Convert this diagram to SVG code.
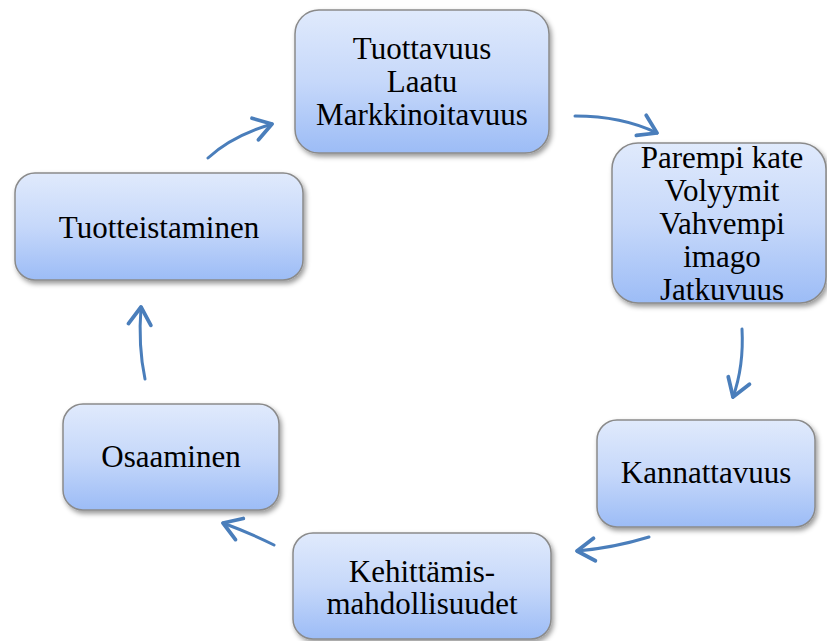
<svg xmlns="http://www.w3.org/2000/svg" width="827" height="641" viewBox="0 0 827 641">
<defs>
<linearGradient id="g" x1="0" y1="0" x2="0" y2="1">
<stop offset="0" stop-color="#e0eafc"/>
<stop offset="0.5" stop-color="#c6d8fa"/>
<stop offset="1" stop-color="#9cbcf6"/>
</linearGradient>
<filter id="sh" x="-10%" y="-10%" width="130%" height="140%">
<feDropShadow dx="2" dy="3" stdDeviation="2.5" flood-color="#000" flood-opacity="0.4"/>
</filter>
<marker id="ah" markerUnits="userSpaceOnUse" markerWidth="30" markerHeight="30" refX="0" refY="0" viewBox="-16 -12 20 24" orient="auto">
<path d="M-14,-9 L0,0 L-14,9" fill="none" stroke="#4a7ebb" stroke-width="3" stroke-linecap="round" stroke-linejoin="round"/>
</marker>
</defs>
<style>
.box{fill:url(#g);stroke:#8a8a8a;stroke-width:1.5;filter:url(#sh)}
.t{font-family:'Liberation Serif','DejaVu Serif',serif;font-size:31px;fill:#000;text-anchor:middle}
.c{fill:none;stroke:#4a7ebb;stroke-width:3;stroke-linecap:round;marker-end:url(#ah)}
</style>
<rect width="827" height="641" fill="#fff"/>
<g id="connectors">
<path class="c" d="M208,158 Q232,136 272,124"/>
<path class="c" d="M575,116 Q622,116 657,133"/>
<path class="c" d="M742,329 Q744,366 733,397"/>
<path class="c" d="M649,537 Q613,548 577,551"/>
<path class="c" d="M274,545 Q250,533 223,523"/>
<path class="c" d="M145,379 Q138,346 141,307"/>
</g>
<g id="n1">
<rect class="box" x="295" y="10" width="254" height="143" rx="24"/>
<text class="t" font-family="Liberation Serif, DejaVu Serif, serif" x="422" y="59">Tuottavuus</text>
<text class="t" font-family="Liberation Serif, DejaVu Serif, serif" x="422" y="92">Laatu</text>
<text class="t" font-family="Liberation Serif, DejaVu Serif, serif" x="422" y="125">Markkinoitavuus</text>
</g>
<g id="n2">
<rect class="box" x="612" y="143" width="214" height="160" rx="26"/>
<text class="t" x="722" y="168">Parempi kate</text>
<text class="t" x="722" y="201">Volyymit</text>
<text class="t" x="722" y="234">Vahvempi</text>
<text class="t" x="722" y="267">imago</text>
<text class="t" x="722" y="300">Jatkuvuus</text>
</g>
<g id="n3">
<rect class="box" x="597" y="420" width="218" height="107" rx="20"/>
<text class="t" x="706" y="483">Kannattavuus</text>
</g>
<g id="n4">
<rect class="box" x="293" y="533" width="258" height="106" rx="20"/>
<text class="t" x="422" y="582">Kehittämis-</text>
<text class="t" x="422" y="614">mahdollisuudet</text>
</g>
<g id="n5">
<rect class="box" x="63" y="404" width="216" height="106" rx="20"/>
<text class="t" x="171" y="467">Osaaminen</text>
</g>
<g id="n6">
<rect class="box" x="15" y="173" width="288" height="107" rx="20"/>
<text class="t" x="159" y="238">Tuotteistaminen</text>
</g>
</svg>
